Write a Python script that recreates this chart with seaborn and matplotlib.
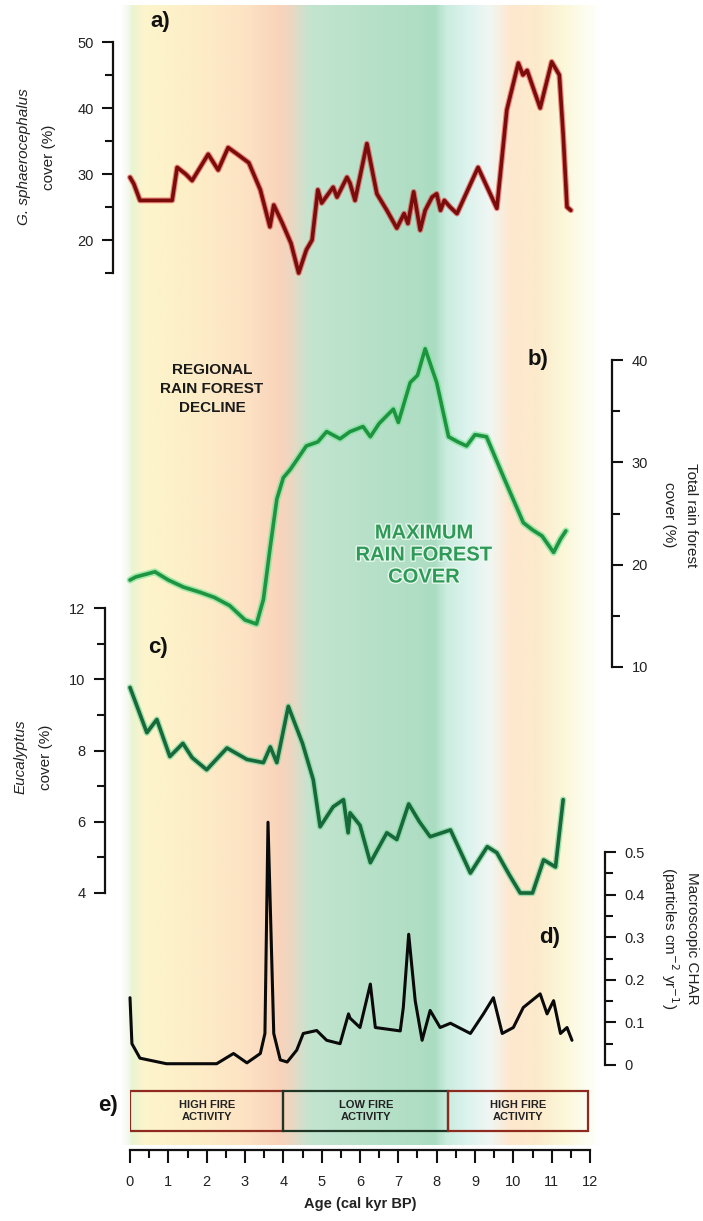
import numpy as np
import pandas as pd
import matplotlib
matplotlib.use("Agg")
import matplotlib.pyplot as plt
import matplotlib.patheffects as pe
from matplotlib.patches import Rectangle
from matplotlib.ticker import MultipleLocator
import seaborn as sns

sns.set_style("ticks")
plt.rcParams['font.family'] = ['Liberation Sans', 'DejaVu Sans']

# ---------------- data ----------------
ages_a = [0.0, 0.1, 0.26, 0.6, 1.1, 1.23, 1.45, 1.62, 2.04, 2.3, 2.56, 2.8, 3.1, 3.4, 3.65,
          3.75, 3.97, 4.2, 4.4, 4.6, 4.75, 4.9, 5.0, 5.3, 5.4, 5.66, 5.74, 5.87, 6.18, 6.44,
          6.7, 6.96, 7.15, 7.25, 7.4, 7.57, 7.7, 7.88, 8.0, 8.1, 8.2, 8.35, 8.53, 9.08, 9.57,
          9.83, 10.13, 10.25, 10.36, 10.7, 11.0, 11.2, 11.3, 11.4, 11.5]
gymno_a = [29.5, 28.5, 26.0, 26.0, 26.0, 31.0, 30.0, 29.0, 33.0, 30.6, 34.0, 33.0, 31.7, 27.6, 22.0,
           25.3, 22.6, 19.5, 15.0, 18.5, 20.0, 27.6, 25.6, 28.0, 26.5, 29.5, 28.6, 26.0, 34.6, 27.0,
           24.5, 21.8, 24.0, 22.5, 27.3, 21.5, 24.5, 26.5, 27.0, 24.5, 26.0, 25.0, 24.0, 31.0, 24.8,
           39.7, 46.8, 45.0, 45.7, 40.0, 47.0, 45.0, 36.0, 25.0, 24.5]

ages_b = [0.0, 0.15, 0.65, 1.0, 1.4, 1.83, 2.2, 2.6, 3.0, 3.3, 3.48, 3.65, 3.83, 4.0, 4.18, 4.4,
          4.6, 4.9, 5.13, 5.48, 5.74, 6.08, 6.27, 6.5, 6.87, 7.0, 7.31, 7.5, 7.7, 8.0, 8.31, 8.55,
          8.78, 9.0, 9.3, 9.74, 10.26, 10.5, 10.75, 11.05, 11.23, 11.37]
rainforest_b = [18.5, 18.8, 19.3, 18.5, 17.8, 17.3, 16.8, 16.0, 14.6, 14.2, 16.6, 21.5, 26.4, 28.5,
                29.3, 30.5, 31.6, 32.0, 33.0, 32.3, 33.0, 33.5, 32.5, 33.8, 35.2, 33.9, 37.8, 38.5,
                41.1, 37.8, 32.5, 32.0, 31.6, 32.7, 32.5, 28.6, 24.1, 23.4, 22.8, 21.2, 22.5, 23.3]

ages_c = [0.0, 0.44, 0.7, 1.04, 1.38, 1.62, 2.0, 2.53, 3.05, 3.48, 3.66, 3.83, 4.13, 4.5, 4.78,
          4.96, 5.3, 5.57, 5.69, 5.74, 6.0, 6.27, 6.7, 6.96, 7.27, 7.55, 7.83, 8.36, 8.88, 9.32,
          9.57, 9.9, 10.18, 10.5, 10.79, 11.1, 11.3]
eucalyptus_c = [9.77, 8.5, 8.87, 7.83, 8.2, 7.8, 7.46, 8.07, 7.75, 7.66, 8.1, 7.66, 9.24, 8.2, 7.18,
                5.86, 6.42, 6.62, 5.69, 6.25, 5.9, 4.85, 5.69, 5.5, 6.5, 6.0, 5.58, 5.77, 4.56, 5.3,
                5.13, 4.5, 4.0, 4.0, 4.93, 4.73, 6.62]

ages_d = [0.0, 0.05, 0.26, 0.95, 2.26, 2.7, 3.05, 3.4, 3.52, 3.6, 3.75, 3.92, 4.1, 4.35, 4.52,
          4.87, 5.13, 5.48, 5.7, 5.74, 6.0, 6.27, 6.4, 7.05, 7.13, 7.27, 7.44, 7.62, 7.83, 8.09,
          8.36, 8.88, 9.22, 9.48, 9.71, 10.0, 10.26, 10.7, 10.88, 11.05, 11.23, 11.4, 11.53]
char_d = [0.158, 0.05, 0.016, 0.003, 0.003, 0.027, 0.005, 0.027, 0.074, 0.57, 0.074, 0.012, 0.007,
          0.035, 0.074, 0.081, 0.058, 0.05, 0.12, 0.11, 0.088, 0.19, 0.088, 0.08, 0.135, 0.307,
          0.151, 0.058, 0.128, 0.088, 0.098, 0.074, 0.12, 0.158, 0.074, 0.088, 0.135, 0.167, 0.12,
          0.151, 0.074, 0.088, 0.058]

fire_edges = [0.0, 4.0, 8.3, 11.95]
fire_labels = ["HIGH FIRE\nACTIVITY", "LOW FIRE\nACTIVITY", "HIGH FIRE\nACTIVITY"]
x_ticks = list(range(0, 13))

# ---------------- layout helpers ----------------
W, H = 703, 1221
fig = plt.figure(figsize=(W / 100, H / 100), dpi=100)


def rect(l, t, r, b):
    return [l / W, 1 - b / H, (r - l) / W, (b - t) / H]


def fx(px):
    return px / W


def fy(py):
    return 1 - py / H


X0, X1 = 130, 590
PPK = (X1 - X0) / 12.0

# ---------------- background gradient ----------------
bg_l, bg_r = 122, 600
ax_bg = fig.add_axes(rect(bg_l, 5, bg_r, 1145))
xl = (bg_l - X0) / PPK
xr = (bg_r - X0) / PPK
stops = [(-0.25, "#ffffff"), (-0.05, "#f4f8ee"), (0.05, "#e8f4d2"), (0.35, "#fdf5cc"),
         (1.5, "#fdefc8"), (3.0, "#fde3c4"), (3.9, "#f9d3bb"), (4.15, "#efd6c0"),
         (4.7, "#c3e5d0"), (6.0, "#b9e1ca"), (7.5, "#afdec4"), (7.95, "#aadcc2"),
         (8.25, "#c9ecde"), (8.8, "#dcf3ee"), (9.4, "#f1f6f3"), (9.9, "#fde8cf"),
         (10.6, "#fdeacc"), (11.3, "#fbf7d8"), (11.9, "#fdfdf0"), (12.3, "#ffffff")]
sx = np.array([s[0] for s in stops])
sc = np.array([matplotlib.colors.to_rgb(s[1]) for s in stops])
grid = np.linspace(xl, xr, 800)
img = np.stack([np.interp(grid, sx, sc[:, k]) for k in range(3)], axis=-1)[None, :, :]
ax_bg.imshow(img, extent=[xl, xr, 0, 1], aspect="auto", interpolation="bilinear")
ax_bg.set_xlim(xl, xr)
ax_bg.set_ylim(0, 1)
ax_bg.axis("off")

TICKC = "#222222"


def style_panel(ax, side, offset_pt, ylim, major, minor, fmt=None):
    ax.set_facecolor("none")
    ax.set_xlim(0, 12)
    ax.set_ylim(*ylim)
    for s in ["top", "bottom", "left", "right"]:
        ax.spines[s].set_visible(False)
    ax.spines[side].set_visible(True)
    ax.spines[side].set_linewidth(1.6)
    ax.spines[side].set_color("#111111")
    ax.spines[side].set_position(("outward", offset_pt))
    ax.set_xticks([])
    ax.yaxis.set_major_locator(MultipleLocator(major))
    ax.yaxis.set_minor_locator(MultipleLocator(minor))
    if side == "right":
        ax.yaxis.tick_right()
    else:
        ax.yaxis.tick_left()
    ax.tick_params(axis="y", which="major", length=8, width=1.5, direction="out",
                   labelsize=10.5, colors="#111111", labelcolor=TICKC, pad=6)
    ax.tick_params(axis="y", which="minor", length=6, width=1.5, direction="out",
                   colors="#111111")
    if fmt:
        ax.yaxis.set_major_formatter(matplotlib.ticker.FuncFormatter(fmt))
    ax.set_xlabel("")
    ax.set_ylabel("")


# ---------------- panel a ----------------
ax_a = fig.add_axes(rect(X0, 42, X1, 273))
df_a = pd.DataFrame({"age": ages_a, "v": gymno_a})
sns.lineplot(data=df_a, x="age", y="v", ax=ax_a, sort=False, estimator=None,
             color="#7a0c0c", linewidth=2.6)
ax_a.lines[0].set_path_effects([pe.Stroke(linewidth=4.2, foreground="#e04040", alpha=0.6), pe.Normal()])
ax_a.lines[0].set_clip_on(False)
style_panel(ax_a, "left", 12.2, (15, 50), 10, 5)
ax_a.set_yticks([20, 30, 40, 50])

# ---------------- panel b ----------------
ax_b = fig.add_axes(rect(X0, 360, X1, 667))
df_b = pd.DataFrame({"age": ages_b, "v": rainforest_b})
sns.lineplot(data=df_b, x="age", y="v", ax=ax_b, sort=False, estimator=None,
             color="#1e9440", linewidth=2.6)
ax_b.lines[0].set_path_effects([pe.Stroke(linewidth=5, foreground="#7fe39c", alpha=0.7), pe.Normal()])
ax_b.lines[0].set_clip_on(False)
style_panel(ax_b, "right", 15.8, (10, 40), 10, 5)

# ---------------- panel c ----------------
ax_c = fig.add_axes(rect(X0, 608, X1, 893))
df_c = pd.DataFrame({"age": ages_c, "v": eucalyptus_c})
sns.lineplot(data=df_c, x="age", y="v", ax=ax_c, sort=False, estimator=None,
             color="#17683a", linewidth=2.6)
ax_c.lines[0].set_path_effects([pe.Stroke(linewidth=4.6, foreground="#7fd89a", alpha=0.7), pe.Normal()])
ax_c.lines[0].set_clip_on(False)
style_panel(ax_c, "left", 18.0, (4, 12), 2, 1)

# ---------------- panel d ----------------
ax_d = fig.add_axes(rect(X0, 852, X1, 1065))
df_d = pd.DataFrame({"age": ages_d, "v": char_d})
sns.lineplot(data=df_d, x="age", y="v", ax=ax_d, sort=False, estimator=None,
             color="#0a0a0a", linewidth=2.2)
ax_d.lines[0].set_clip_on(False)
style_panel(ax_d, "right", 10.8, (0, 0.5), 0.1, 0.05,
            fmt=lambda v, p: "0" if abs(v) < 1e-9 else f"{v:.1f}")

# ---------------- panel e + x axis ----------------
ax_e = fig.add_axes(rect(X0, 1085, X1, 1150))
ax_e.set_facecolor("none")
ax_e.set_xlim(0, 12)
ax_e.set_ylim(0, 1)
for s in ["top", "left", "right"]:
    ax_e.spines[s].set_visible(False)
ax_e.spines["bottom"].set_linewidth(1.6)
ax_e.spines["bottom"].set_color("#111111")
ax_e.set_yticks([])
ax_e.set_xticks(x_ticks)
ax_e.xaxis.set_minor_locator(MultipleLocator(0.5))
ax_e.tick_params(axis="x", which="major", length=9, width=1.5, direction="out",
                 labelsize=10.5, colors="#111111", labelcolor=TICKC, pad=9)
ax_e.tick_params(axis="x", which="minor", length=6, width=1.5, direction="out", colors="#111111")
ax_e.set_xlabel("Age (cal kyr BP)", fontsize=10.5, fontweight="bold", color="#222222", labelpad=6)
box_b, box_t = (1150 - 1131) / 65, (1150 - 1091) / 65
edgecols = ["#8e2a1e", "#1f3526", "#8e2a1e"]
for i, lab in enumerate(fire_labels):
    x_lo, x_hi = fire_edges[i], fire_edges[i + 1]
    ax_e.add_patch(Rectangle((x_lo, box_b), x_hi - x_lo, box_t - box_b, fill=False,
                             edgecolor=edgecols[i], linewidth=1.6))
    ax_e.text((x_lo + x_hi) / 2, (box_b + box_t) / 2, lab, ha="center", va="center",
              fontsize=8, fontweight="bold", color="#222222", linespacing=1.3)

# ---------------- labels ----------------
lab_kw = dict(fontsize=11, color="#222222", ha="center", va="center")
fig.text(fx(24), fy(157), "G. sphaerocephalus", rotation=90, style="italic", **lab_kw)
fig.text(fx(49), fy(157), "cover (%)", rotation=90, **lab_kw)
fig.text(fx(21), fy(757), "Eucalyptus", rotation=90, style="italic", **lab_kw)
fig.text(fx(46), fy(757), "cover (%)", rotation=90, **lab_kw)
fig.text(fx(691), fy(515), "Total rain forest", rotation=270, **lab_kw)
fig.text(fx(669), fy(515), "cover (%)", rotation=270, **lab_kw)
fig.text(fx(692), fy(938), "Macroscopic CHAR", rotation=270, **lab_kw)
fig.text(fx(670), fy(938), "(particles cm$^{-2}$ yr$^{-1}$)", rotation=270, **lab_kw)

pk = dict(fontsize=16, fontweight="bold", color="#111111", ha="center", va="center")
fig.text(fx(160), fy(22), "a)", **pk)
fig.text(fx(538), fy(360), "b)", **pk)
fig.text(fx(158), fy(647), "c)", **pk)
fig.text(fx(550), fy(938), "d)", **pk)
fig.text(fx(108), fy(1106), "e)", **pk)

fig.text(fx(212), fy(389), "REGIONAL\nRAIN FOREST\nDECLINE", ha="center", va="center",
         fontsize=11, fontweight="bold", color="#1a1a1a", linespacing=1.45)
fig.text(fx(424), fy(555), "MAXIMUM\nRAIN FOREST\nCOVER", ha="center", va="center",
         fontsize=14.5, fontweight="bold", color="#2f9a58", linespacing=1.2,
         path_effects=[pe.withStroke(linewidth=2, foreground="#e8f8ee")])

fig.savefig("out.png", dpi=100)
